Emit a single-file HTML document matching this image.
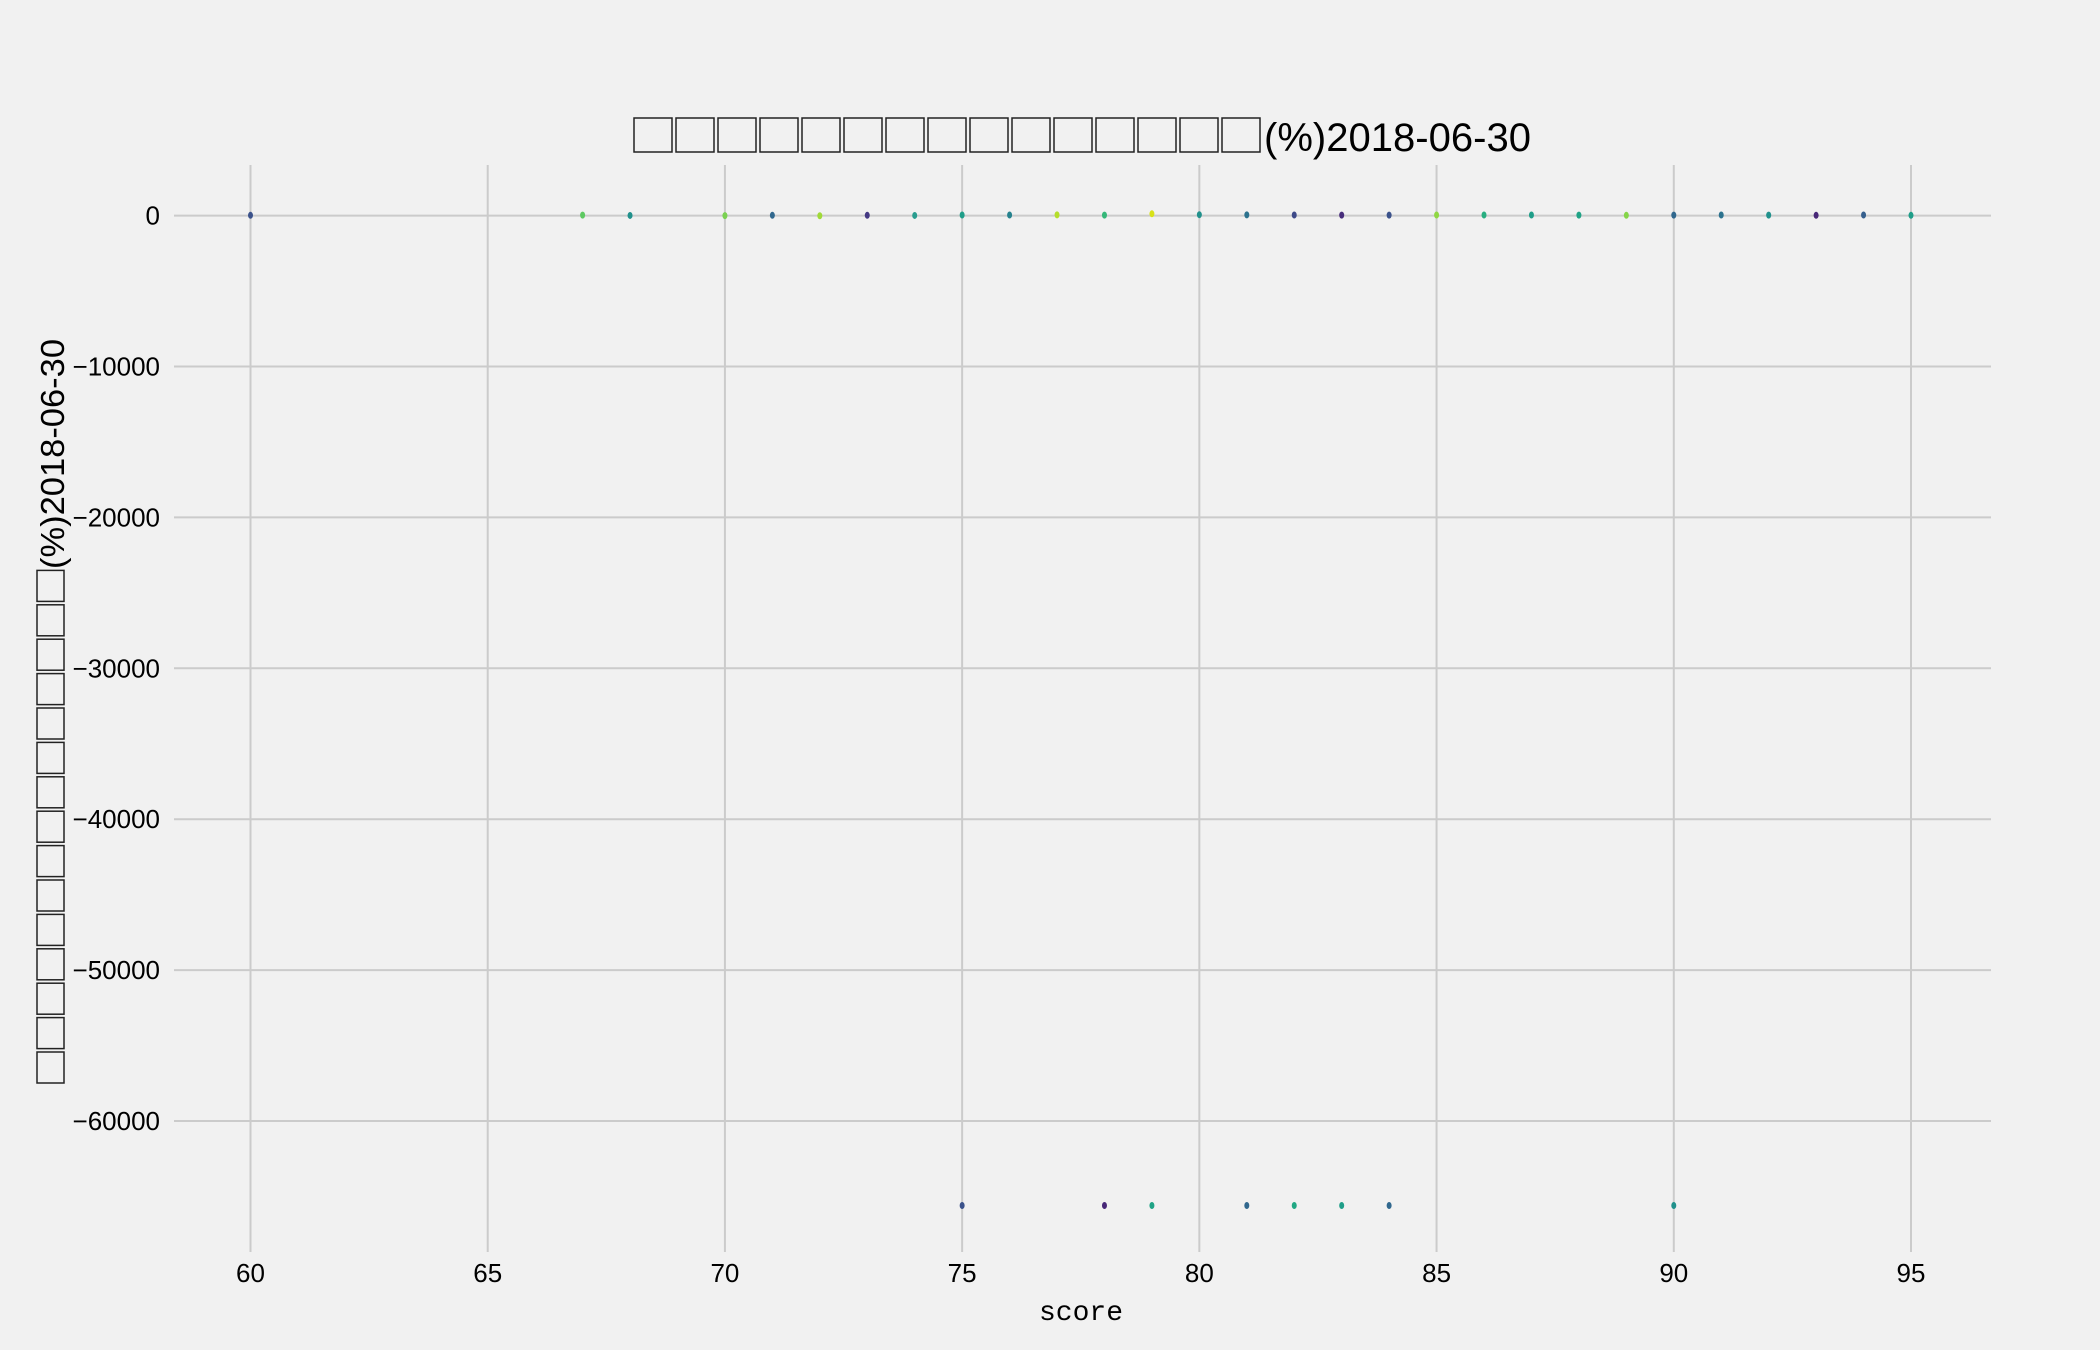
<!DOCTYPE html>
<html><head><meta charset="utf-8"><style>
html,body{margin:0;padding:0;background:#f1f1f1;}
svg{display:block;font-family:"Liberation Sans","Noto Sans CJK SC",sans-serif;}
</style></head><body>
<svg id="chart" width="2100" height="1350" viewBox="0 0 2100 1350" xmlns="http://www.w3.org/2000/svg">
<rect width="2100" height="1350" fill="#f1f1f1"/>
<g id="grid"></g>
<g id="ticks"></g>
<g id="marks"></g>
<g id="title"></g>
<text x="1081" y="1320" font-size="28" text-anchor="middle" font-family="Liberation Mono, monospace">score</text>
<g id="ylabel"></g>
</svg>
<script>
const xTicks = [60,65,70,75,80,85,90,95];
const yTicks = [0,-10000,-20000,-30000,-40000,-50000,-60000];
const topX = [60,67,68,70,71,72,73,74,75,76,77,78,79,80,81,82,83,84,85,86,87,88,89,90,91,92,93,94,95];
const topY = [20,30,10,0,20,-10,20,10,40,40,50,30,120,60,50,40,30,30,40,40,40,30,20,30,40,30,20,40,20];
const topC = ["#3b528b","#5ec962","#21918c","#7ad151","#31688e","#a0da39","#443983","#2a9d8f","#1f9e89","#26828e","#b5de2b","#35b779","#d8e219","#21918c","#2c728e","#3e4a89","#472d7b","#3b528b","#90d743","#28ae80","#1f9e89","#20a386","#86d549","#31688e","#2c728e","#21918c","#482878","#355f8d","#1f9e89"];
const lowX = [75,78,79,81,82,83,84,90];
const lowY = [-65600,-65600,-65600,-65600,-65600,-65600,-65600,-65600];
const lowC = ["#3b528b","#482878","#20a386","#31688e","#22a884","#1f9e89","#31688e","#21918c"];

const NS="http://www.w3.org/2000/svg";
const L=174,R=1991,T=165,B=1252;
function sx(v){return 250.5+(v-60)*(1911-250.5)/35;}
function sy(v){return 215.6-v*150.9/10000;}
function mk(tag,attrs,parent){const e=document.createElementNS(NS,tag);for(const k in attrs)e.setAttribute(k,attrs[k]);parent.appendChild(e);return e;}
const grid=document.getElementById('grid'),ticks=document.getElementById('ticks'),marks=document.getElementById('marks');
xTicks.forEach(t=>{
  const l=mk('line',{x1:sx(t),x2:sx(t),y1:T,y2:B,stroke:'#cbcbcb','stroke-width':2},grid);
  
  
  const tx=mk('text',{x:sx(t),y:1282,'font-size':26,'text-anchor':'middle'},ticks);
  tx.textContent=t;
  
  
});
yTicks.forEach(t=>{
  const l=mk('line',{x1:L,x2:R,y1:sy(t),y2:sy(t),stroke:'#cbcbcb','stroke-width':2},grid);
  
  
  const tx=mk('text',{x:160,y:sy(t)+9,'font-size':26,'text-anchor':'end'},ticks);
  tx.textContent=t<0?'\u2212'+(-t):t;
  
  
});
function pts(xs,ys,cs){xs.forEach((x,i)=>{
  const e=mk('ellipse',{cx:sx(x),cy:sy(ys[i]),rx:2.5,ry:3.5,fill:cs[i]},marks);
  
  
});}
pts(topX,topY,topC);pts(lowX,lowY,lowC);
// title
const tg=document.getElementById('title');
for(let i=0;i<15;i++){const r=mk('rect',{x:634+i*42,y:118,width:38,height:34,fill:'none',stroke:'#222','stroke-width':1.5},tg);
  
  }
const tt=mk('text',{x:1264,y:151,'font-size':40,textLength:267,lengthAdjust:'spacingAndGlyphs'},tg);
tt.textContent='(%)2018-06-30';


// y label (rotated)
const yg=document.getElementById('ylabel');
yg.setAttribute('transform','translate(50,712) rotate(-90)');
const yt=mk('text',{x:143,y:14,'font-size':33,textLength:230,lengthAdjust:'spacingAndGlyphs'},yg);
yt.textContent='(%)2018-06-30';


for(let i=0;i<15;i++){const r=mk('rect',{x:-373+i*34.4+2,y:-13,width:31,height:27,fill:'none',stroke:'#222','stroke-width':1.5},yg);
  
  }
</script>
</body></html>
